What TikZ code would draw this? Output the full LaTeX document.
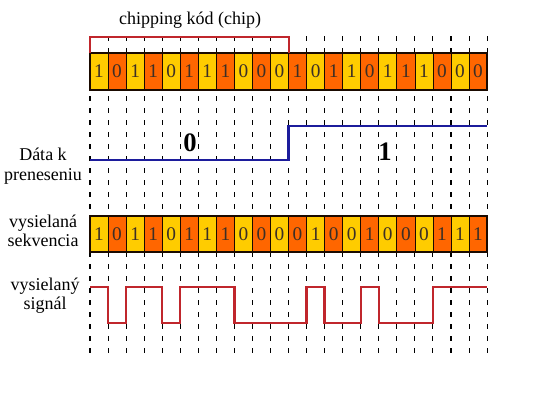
\documentclass[tikz,border=0pt]{standalone}
\usepackage{fontspec}
\setmainfont{Liberation Serif}
\usetikzlibrary{positioning}
\definecolor{chipyellow}{HTML}{FFCC00}
\definecolor{chiporange}{HTML}{FF6600}
\definecolor{sigred}{HTML}{C0262C}
\definecolor{datablue}{HTML}{1C1C9C}
\definecolor{ink}{HTML}{1A0A00}
\tikzset{
  lbl/.style={align=center,font=\fontsize{13.5}{14.5}\selectfont,inner sep=0pt},
  bit/.style={font=\fontsize{14.5}{15}\selectfont,text=ink!85,inner sep=0pt},
  bigbit/.style={font=\fontsize{20}{22}\selectfont\bfseries,inner sep=0pt},
  tick/.style={black,line width=.8pt,dash pattern=on 3.8pt off 5.2pt},
}
\begin{document}
\begin{tikzpicture}[x=.75pt,y=-.75pt]
\useasboundingbox (0,0) rectangle (550,400);
\def\w{18.05}
% chip boundaries
\foreach \i in {0,...,22}{\draw[tick] (90+\i*\w,36)--(90+\i*\w,357);}
% chipping code, two periods
\foreach \b [count=\i from 0] in {1,0,1,1,0,1,1,1,0,0,0,1,0,1,1,0,1,1,1,0,0,0}{
  \ifodd\i\def\col{chiporange}\else\def\col{chipyellow}\fi
  \fill[\col] (90+\i*\w,53) rectangle +(\w,37);
  \draw[ink,line width=.6pt] (90+\i*\w,53) rectangle +(\w,37);
  \node[bit] (chip\i) at (90+\i*\w+\w/2,71.5){\b};
}
\draw[ink,line width=1.6pt] (90,53) rectangle (90+22*\w,90);
% transmitted sequence
\foreach \b [count=\i from 0] in {1,0,1,1,0,1,1,1,0,0,0,0,1,0,0,1,0,0,0,1,1,1}{
  \ifodd\i\def\col{chiporange}\else\def\col{chipyellow}\fi
  \fill[\col] (90+\i*\w,216) rectangle +(\w,36);
  \draw[ink,line width=.6pt] (90+\i*\w,216) rectangle +(\w,36);
  \node[bit] (seq\i) at (90+\i*\w+\w/2,234){\b};
}
\draw[ink,line width=1.6pt] (90,216) rectangle (90+22*\w,252);
% chip bracket
\draw[sigred,line width=1.5pt] (90,53)--(90,37)--(90+11*\w,37)--(90+11*\w,53);
\node[lbl] (lblchip) at (190,20){chipping kód (chip)};
% data
\draw[datablue,line width=1.8pt] (90,160)--(90+11*\w,160)--(90+11*\w,126)--(90+22*\w,126);
\node[bigbit] (data0) at (190,143){0};
\node[bigbit] (data1) at (385,152){1};
% signal
\draw[sigred,line width=1.8pt] (90,287) \foreach \b [count=\i from 0] in {1,0,1,1,0,1,1,1,0,0,0,0,1,0,0,1,0,0,0,1,1,1}{
  --(90+\i*\w,323-36*\b)--(90+\i*\w+\w,323-36*\b)};
% labels
\node[lbl] (lbldata) at (43,166){Dáta k\\preneseniu};
\node[lbl] (lblseq) at (43,231){vysielaná\\sekvencia};
\node[lbl] (lblsig) at (45,296){vysielaný\\signál};
\end{tikzpicture}
\end{document}
